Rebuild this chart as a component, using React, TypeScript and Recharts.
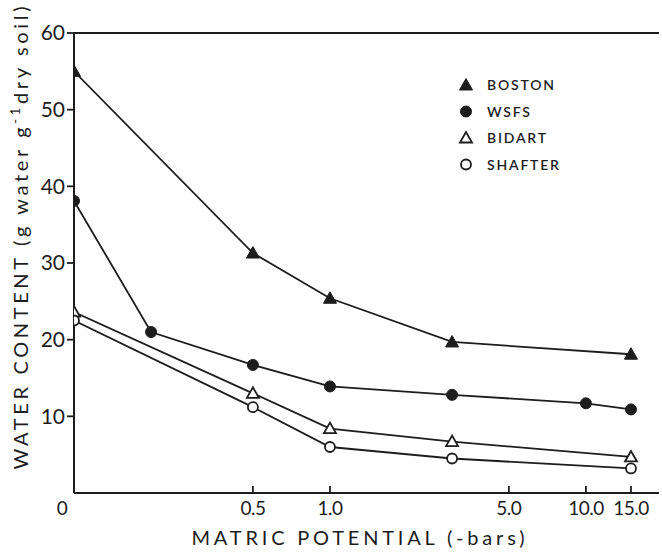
import React from "react";
import { LineChart, Line, XAxis, YAxis, ReferenceLine, Legend, Label } from "recharts";

// ---- data (matric potential in -bars, water content in g water / g dry soil x100) ----
const bostonPotential = [0, 0.5, 1.0, 3.0, 15.0];
const bostonWater = [55.0, 31.3, 25.4, 19.7, 18.1];

const wsfsPotential = [0, 0.2, 0.5, 1.0, 3.0, 10.0, 15.0];
const wsfsWater = [38.1, 21.0, 16.7, 13.9, 12.8, 11.7, 10.9];

const bidartPotential = [0, 0.5, 1.0, 3.0, 15.0];
const bidartWater = [23.6, 13.0, 8.4, 6.7, 4.7];

const shafterPotential = [0, 0.5, 1.0, 3.0, 15.0];
const shafterWater = [22.5, 11.2, 6.0, 4.5, 3.2];

const xTickValues = [0, 0.5, 1.0, 5.0, 10.0, 15.0];
const xTickLabels = ["0", "0.5", "1.0", "5.0", "10.0", "15.0"];
const yTickValues = [10, 20, 30, 40, 50, 60];

const seriesNames = ["BOSTON", "WSFS", "BIDART", "SHAFTER"];

// "0" on this log axis is drawn at the 0.1 position, as in the original figure
const ZERO_POS = 0.1;
const toPos = (p: number) => (p === 0 ? ZERO_POS : p);
const build = (xs: number[], ys: number[]) => xs.map((p, i) => ({ x: toPos(p), y: ys[i] }));

const bostonData = build(bostonPotential, bostonWater);
const wsfsData = build(wsfsPotential, wsfsWater);
const bidartData = build(bidartPotential, bidartWater);
const shafterData = build(shafterPotential, shafterWater);

const INK = "#1d1d1d";
const FONT = "Lato, 'Liberation Sans', sans-serif";

const markerShape = (kind: number, cx: number, cy: number, key?: any) => {
  if (kind === 0)
    return <polygon key={key} points={`${cx},${cy - 6.5} ${cx - 6.5},${cy + 5} ${cx + 6.5},${cy + 5}`} fill={INK} stroke={INK} strokeWidth={1} />;
  if (kind === 1) return <circle key={key} cx={cx} cy={cy} r={5.5} fill={INK} stroke={INK} strokeWidth={1} />;
  if (kind === 2)
    return <polygon key={key} points={`${cx},${cy - 6} ${cx - 6},${cy + 4.5} ${cx + 6},${cy + 4.5}`} fill="#fff" stroke={INK} strokeWidth={1.8} />;
  return <circle key={key} cx={cx} cy={cy} r={5} fill="#fff" stroke={INK} strokeWidth={1.8} />;
};

const makeDot = (kind: number) => (props: any) => {
  const { cx, cy, index } = props;
  if (cx == null || cy == null) return <g key={`d${kind}-${index}`} />;
  return markerShape(kind, cx, cy, `d${kind}-${index}`);
};

const XTick = (props: any) => {
  const { x, y, payload } = props;
  const v = payload.value;
  const idx = xTickValues.map(toPos).indexOf(v);
  const label = idx >= 0 ? xTickLabels[idx] : String(v);
  const isZero = v === ZERO_POS;
  return (
    <g>
      {!isZero && <line x1={x} y1={y} x2={x} y2={y - 7} stroke={INK} strokeWidth={1.8} />}
      <text x={isZero ? x - 12 : x} y={y + 22} textAnchor="middle" fontSize={19} fontFamily={FONT} fill={INK} letterSpacing={-0.5}>
        {label}
      </text>
    </g>
  );
};

const LegendContent = () => (
  <svg width={160} height={110} style={{ display: "block" }}>
    {seriesNames.map((name, i) => (
      <g key={name}>
        {markerShape(i, 11, 13 + i * 26.5)}
        <text x={32} y={13 + i * 26.5 + 5} fontSize={14} fontWeight={600} fontFamily={FONT} fill={INK} letterSpacing={1.8}>
          {name}
        </text>
      </g>
    ))}
  </svg>
);

export default function App() {
  return (
    <div style={{ position: "relative", width: 662, height: 553, background: "#fff" }}>
      <style>{"body{margin:0;background:#fff}"}</style>
      <LineChart width={662} height={553} margin={{ top: 33, right: 3, bottom: 0, left: 0 }}>
        <XAxis
          dataKey="x"
          type="number"
          scale="log"
          domain={[ZERO_POS, 19.3]}
          allowDataOverflow
          ticks={xTickValues.map(toPos)}
          interval={0}
          tick={<XTick />}
          tickLine={false}
          tickSize={0}
          tickMargin={0}
          height={60}
          axisLine={{ stroke: INK, strokeWidth: 2 }}
        >
          <Label
            content={() => (
              <text x={358} y={545} textAnchor="middle" fontSize={20} fontFamily={FONT} fill={INK} textLength={333} lengthAdjust="spacing">
                MATRIC POTENTIAL (-bars)
              </text>
            )}
          />
        </XAxis>
        <YAxis
          type="number"
          domain={[0, 60]}
          ticks={yTickValues}
          interval={0}
          width={74}
          tickSize={7}
          tickMargin={2}
          tickLine={{ stroke: INK, strokeWidth: 1.8 }}
          axisLine={{ stroke: INK, strokeWidth: 2 }}
          tick={{ fontSize: 21, fontFamily: FONT, fill: INK }}
        >
          <Label
            content={() => (
              <text
                transform="translate(28,238) rotate(-90)"
                textAnchor="middle"
                fontSize={20}
                fontFamily={FONT}
                fill={INK}
                textLength={463}
                lengthAdjust="spacing"
              >
                WATER CONTENT (g water g<tspan dy={-8} fontSize={13}>-1</tspan>
                <tspan dy={8}>dry soil)</tspan>
              </text>
            )}
          />
        </YAxis>
        <ReferenceLine y={60} stroke={INK} strokeWidth={1.8} />
        <Legend
          layout="vertical"
          align="center"
          verticalAlign="middle"
          content={<LegendContent />}
          wrapperStyle={{ position: "absolute", left: 455, top: 72, width: 160, height: 110 }}
        />
        <Line data={bostonData} dataKey="y" name="BOSTON" stroke={INK} strokeWidth={1.8} dot={makeDot(0)} activeDot={false} isAnimationActive={false} />
        <Line data={wsfsData} dataKey="y" name="WSFS" stroke={INK} strokeWidth={1.8} dot={makeDot(1)} activeDot={false} isAnimationActive={false} />
        <Line data={bidartData} dataKey="y" name="BIDART" stroke={INK} strokeWidth={1.8} dot={makeDot(2)} activeDot={false} isAnimationActive={false} />
        <Line data={shafterData} dataKey="y" name="SHAFTER" stroke={INK} strokeWidth={1.8} dot={makeDot(3)} activeDot={false} isAnimationActive={false} />
      </LineChart>
    </div>
  );
}
